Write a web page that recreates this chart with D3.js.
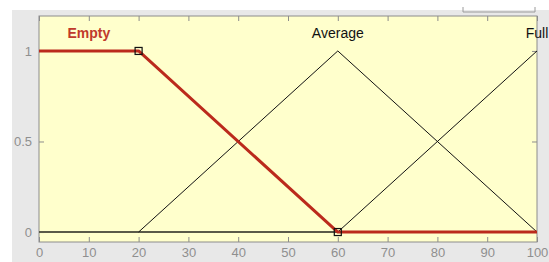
<!DOCTYPE html>
<html>
<head>
<meta charset="utf-8">
<script src="https://cdn.jsdelivr.net/npm/d3@7"></script>
<style>
  body { margin: 0; background: #fff; }
  svg { display: block; font-family: "Liberation Sans", Arial, sans-serif; }
</style>
</head>
<body>
<svg></svg>
<script>
// membership functions
const mfNames = ["Empty", "Average", "Full"]
const labelAt = [10, 60, 100]
const emptyX = [0, 20, 60, 100]
const emptyY = [1, 1, 0, 0]
const averageX = [20, 60, 100]
const averageY = [0, 1, 0]
const fullX = [60, 100]
const fullY = [0, 1]
const xTicks = [0, 10, 20, 30, 40, 50, 60, 70, 80, 90, 100]
const yTicks = [0, 0.5, 1]

let svg = d3.select("svg")
    .attr("width", 549)
    .attr("height", 262)

// grey window background
svg.append("rect")
    .attr("x", 12).attr("y", 10)
    .attr("width", 537).attr("height", 252)
    .attr("fill", "#e8e8e8")

// bit of the box at top right
svg.append("path")
    .attr("d", "M463,7V12H535V7")
    .attr("fill", "none")
    .attr("stroke", "#9a9a9a")

let xScale = d3.scaleLinear().domain([0, 100]).range([39, 537])
let yScale = d3.scaleLinear().domain([-0.055, 1.193]).range([242, 16])

svg.append("rect")
    .attr("x", xScale(0)).attr("y", yScale(1.193))
    .attr("width", xScale(100) - xScale(0))
    .attr("height", yScale(-0.055) - yScale(1.193))
    .attr("fill", "#ffffcc")
    .attr("stroke", "#8c8c8c")

const tickColor = "#8c8c8c"

// bottom axis, ticks point inward
let xAxis = svg.append("g")
    .attr("transform", "translate(0," + yScale(-0.055) + ")")
    .call(d3.axisBottom(xScale).tickValues(xTicks).tickSize(-5).tickPadding(6).tickSizeOuter(0))
xAxis.select(".domain").remove()
xAxis.selectAll("line").attr("stroke", tickColor)
xAxis.selectAll("text").attr("fill", "#8f8f8f").attr("font-size", 13)
    .attr("font-family", "Liberation Sans, Arial, sans-serif")

let xTop = svg.append("g")
    .attr("transform", "translate(0," + yScale(1.193) + ")")
    .call(d3.axisTop(xScale).tickValues(xTicks).tickSize(-5).tickFormat("").tickSizeOuter(0))
xTop.select(".domain").remove()
xTop.selectAll("line").attr("stroke", tickColor)

let yAxis = svg.append("g")
    .attr("transform", "translate(" + xScale(0) + ",0)")
    .call(d3.axisLeft(yScale).tickValues(yTicks).tickSize(-5).tickPadding(7)
        .tickFormat(d3.format("~g")).tickSizeOuter(0))
yAxis.select(".domain").remove()
yAxis.selectAll("line").attr("stroke", tickColor)
yAxis.selectAll("text").attr("fill", "#8f8f8f").attr("font-size", 13)
    .attr("font-family", "Liberation Sans, Arial, sans-serif")

let yRight = svg.append("g")
    .attr("transform", "translate(" + xScale(100) + ",0)")
    .call(d3.axisRight(yScale).tickValues(yTicks).tickSize(-5).tickFormat("").tickSizeOuter(0))
yRight.select(".domain").remove()
yRight.selectAll("line").attr("stroke", tickColor)

const line = d3.line().x(d => xScale(d[0])).y(d => yScale(d[1]))

// zero line
svg.append("path")
    .attr("d", line([[0, 0], [100, 0]]))
    .attr("stroke", "#5a5a48").attr("stroke-width", 2).attr("fill", "none")

svg.append("path")
    .attr("d", line(d3.zip(averageX, averageY)))
    .attr("stroke", "#111").attr("stroke-width", 1).attr("fill", "none")

svg.append("path")
    .attr("d", line(d3.zip(fullX, fullY)))
    .attr("stroke", "#111").attr("stroke-width", 1).attr("fill", "none")

svg.append("path")
    .attr("d", line(d3.zip(emptyX, emptyY)))
    .attr("stroke", "#bb2a1c").attr("stroke-width", 3).attr("fill", "none")
    .attr("stroke-linejoin", "round")

// handles on the selected mf
svg.selectAll(".handle")
    .data(d3.zip(emptyX, emptyY).slice(1, 3))
    .enter().append("rect")
    .attr("class", "handle")
    .attr("x", d => xScale(d[0]) - 3.5)
    .attr("y", d => yScale(d[1]) - 3.5)
    .attr("width", 7).attr("height", 7)
    .attr("fill", "none").attr("stroke", "#111").attr("stroke-width", 1.2)

svg.selectAll(".mflabel")
    .data(mfNames)
    .enter().append("text")
    .attr("class", "mflabel")
    .attr("x", (d, i) => xScale(labelAt[i]))
    .attr("y", 38)
    .attr("text-anchor", "middle")
    .attr("font-size", 14)
    .attr("font-weight", (d, i) => i == 0 ? "bold" : "normal")
    .attr("fill", (d, i) => i == 0 ? "#c0392b" : "#111")
    .text(d => d)
</script>
</body>
</html>
